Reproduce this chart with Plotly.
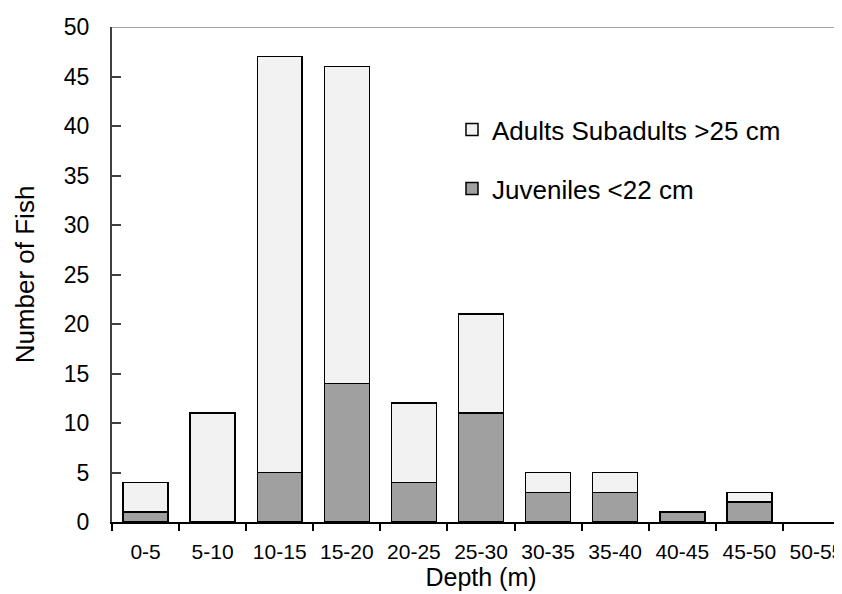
import plotly.graph_objects as go

categories = ["0-5", "5-10", "10-15", "15-20", "20-25", "25-30", "30-35", "35-40", "40-45", "45-50", "50-55"]
juveniles = [1, 0, 5, 14, 4, 11, 3, 3, 1, 2, 0]
adults = [3, 11, 42, 32, 8, 10, 2, 2, 0, 1, 0]

FONT = "Arial, 'Liberation Sans', sans-serif"


def hide_zero(values):
    # zero-height segments are not drawn in the reference
    return [v if v else None for v in values]


fig = go.Figure()
fig.add_trace(go.Bar(
    x=categories, y=hide_zero(juveniles), name="Juveniles <22 cm",
    marker=dict(color="#a0a0a0", line=dict(color="#000000", width=1.5)),
    width=0.67, legendgroup="j", legendrank=2,
))
fig.add_trace(go.Bar(
    x=categories, y=hide_zero(adults), name="Adults Subadults >25 cm",
    marker=dict(color="#f2f2f2", line=dict(color="#000000", width=1.5)),
    width=0.67, legendgroup="a", legendrank=1,
))

fig.update_layout(
    width=842, height=594,
    margin=dict(l=104, r=0, t=19, b=80),
    barmode="stack",
    plot_bgcolor="white", paper_bgcolor="white",
    font=dict(family=FONT, color="#000000"),
    showlegend=True,
    legend=dict(
        x=0.4607, y=0.84, xanchor="left", yanchor="top",
        font=dict(size=26, family=FONT),
        traceorder="grouped", tracegroupgap=22,
        bgcolor="rgba(0,0,0,0)",
    ),
    xaxis=dict(
        type="category", range=[-0.5, 10.5],
        showline=True, linecolor="#000000", linewidth=1.5,
        ticks="outside", ticklen=7, tickcolor="#000000", tickwidth=1.5,
        tickson="boundaries",
        tickfont=dict(size=21, family=FONT),
        ticklabelstandoff=10,
        title=dict(text="Depth (m)", font=dict(size=25, family=FONT), standoff=2),
        showgrid=False, zeroline=False, automargin=False,
    ),
    yaxis=dict(
        range=[0, 50], dtick=5,
        showline=True, linecolor="#404040", linewidth=2,
        ticks="inside", ticklen=9, tickcolor="#404040", tickwidth=1.5,
        tickfont=dict(size=23, family=FONT),
        ticklabelstandoff=16,
        title=dict(text="Number of Fish", font=dict(size=26, family=FONT), standoff=22),
        showgrid=False, zeroline=False, automargin=False,
    ),
)

fig.add_shape(type="line", xref="paper", yref="y", x0=0, x1=1, y0=50, y1=50,
              line=dict(color="#a6a6a6", width=2))

fig.write_html("out.html")
